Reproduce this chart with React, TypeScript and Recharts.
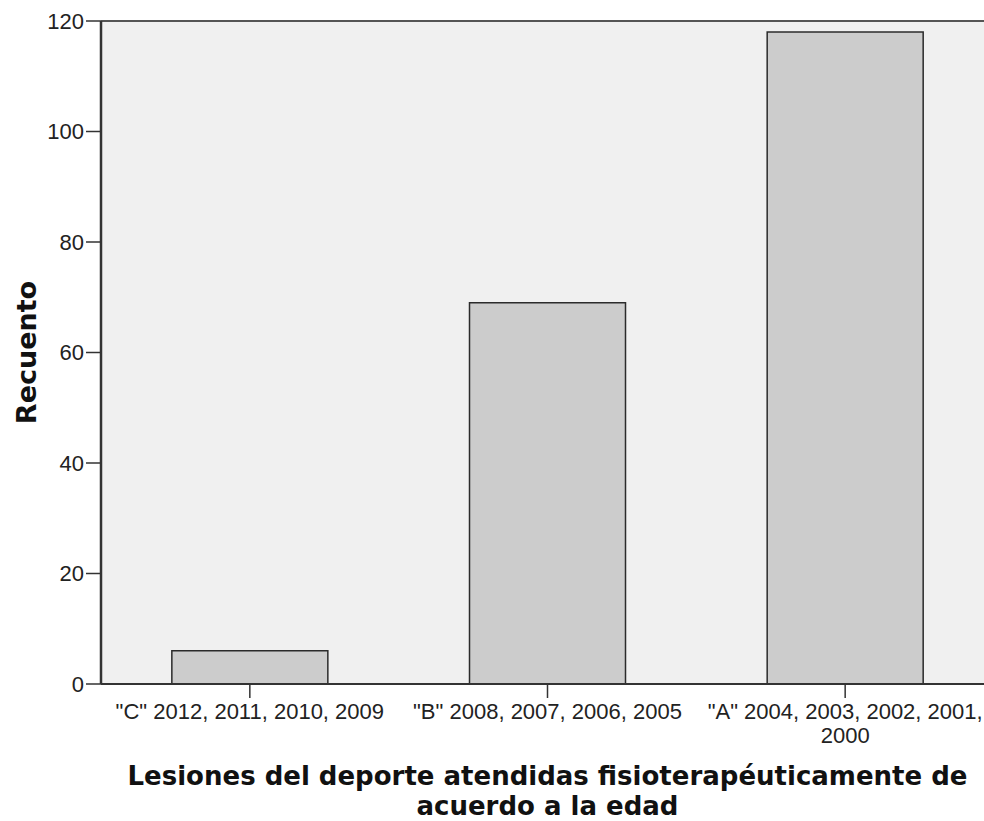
import React from 'react'
import { BarChart, Bar, XAxis, YAxis, CartesianGrid, ReferenceLine } from 'recharts'

// categories (the third one wraps onto a second line)
const categories = [
  '"C" 2012, 2011, 2010, 2009',
  '"B" 2008, 2007, 2006, 2005',
  '"A" 2004, 2003, 2002, 2001,\n2000',
]
const counts = [6, 69, 118]
const yTicks = [0, 20, 40, 60, 80, 100, 120]

const xTitleLines = ['Lesiones del deporte atendidas fisioterapéuticamente de', 'acuerdo a la edad']
const yTitle = 'Recuento'

const data = categories.map((c, i) => ({ name: c, value: counts[i] }))

const tickFont = '"Liberation Sans", Arial, sans-serif'
const titleFont = '"DejaVu Sans", Verdana, sans-serif'

function XTick(props: any) {
  const { x, y, payload } = props
  const lines = String(payload.value).split('\n')
  return (
    <text x={x} y={y} textAnchor="middle" fill="#222" fontSize={22} fontFamily={tickFont}>
      {lines.map((l, i) => (
        <tspan key={i} x={x} dy={i === 0 ? 17 : 24}>{l}</tspan>
      ))}
    </text>
  )
}

function XTitle(props: any) {
  const vb = props.viewBox || {}
  const cx = vb.x + vb.width / 2
  return (
    <text x={cx} y={785} textAnchor="middle" fill="#111" fontSize={26} fontWeight="bold" fontFamily={titleFont}>
      {xTitleLines.map((l, i) => (
        <tspan key={i} x={cx} dy={i === 0 ? 0 : 30}>{l}</tspan>
      ))}
    </text>
  )
}

function YTitle(props: any) {
  const vb = props.viewBox || {}
  const cy = vb.y + vb.height / 2
  const cx = 26
  return (
    <text
      x={cx}
      y={cy}
      transform={`rotate(-90, ${cx}, ${cy})`}
      textAnchor="middle"
      dominantBaseline="central"
      fill="#111"
      fontSize={27}
      fontWeight="bold"
      fontFamily={titleFont}
    >
      {yTitle}
    </text>
  )
}

export default function App() {
  return (
    <div style={{ position: 'absolute', left: 0, top: 0, width: 984, height: 821, overflow: 'hidden', background: '#fff' }}>
      <BarChart
        width={1000}
        height={821}
        data={data}
        margin={{ top: 21, right: 6, left: 0, bottom: 0 }}
        barCategoryGap="23.8%"
      >
        <CartesianGrid horizontal={false} vertical={false} fill="#f0f0f0" />
        <XAxis
          dataKey="name"
          height={137}
          interval={0}
          tick={<XTick />}
          tickSize={14}
          tickMargin={4}
          axisLine={{ stroke: '#333', strokeWidth: 2 }}
          tickLine={{ stroke: '#333', strokeWidth: 1.5 }}
          label={{ content: <XTitle /> }}
        />
        <YAxis
          width={101}
          domain={[0, 120]}
          ticks={yTicks}
          interval={0}
          tickSize={15}
          tickMargin={2}
          tick={{ fill: '#222', fontSize: 22, fontFamily: tickFont }}
          axisLine={{ stroke: '#333', strokeWidth: 2.5 }}
          tickLine={{ stroke: '#333', strokeWidth: 1.5 }}
          label={{ content: <YTitle /> }}
        />
        <ReferenceLine y={120} stroke="#555" strokeWidth={2} />
        <Bar dataKey="value" fill="#cccccc" stroke="#2b2b2b" strokeWidth={1.5} isAnimationActive={false} />
      </BarChart>
    </div>
  )
}
